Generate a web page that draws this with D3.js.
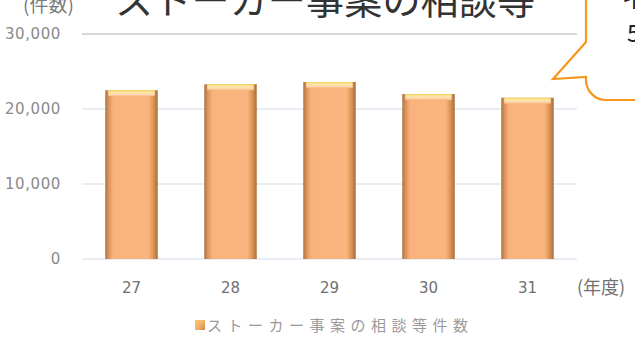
<!DOCTYPE html>
<html><head><meta charset="utf-8">
<script src="https://cdn.jsdelivr.net/npm/d3@7"></script>
<style>html,body{margin:0;padding:0;background:#fff;overflow:hidden}</style>
</head><body>
<svg id="c" width="635" height="338"></svg>
<script>
const categories = ["27","28","29","30","31"];
const values = [22500, 23300, 23600, 22000, 21500];
const yTicks = [0, 10000, 20000, 30000];
const titleText = "ストーカー事案の相談等";
const legendText = "ストーカー事案の相談等件数";
const yUnit = "(件数)";
const xUnit = "(年度)";
const calloutLines = ["イ", "5"];

const svg = d3.select("#c");
const defs = svg.append("defs");
const g1 = defs.append("linearGradient").attr("id","barG").attr("x1","0").attr("x2","1").attr("y1","0").attr("y2","0");
[[0,"#ad723d"],[0.06,"#d8915a"],[0.15,"#f9b27c"],[0.82,"#fab57f"],[0.91,"#e09658"],[1,"#a86e3a"]].forEach(s=>g1.append("stop").attr("offset",s[0]).attr("stop-color",s[1]));
const g2 = defs.append("linearGradient").attr("id","capG").attr("x1","0").attr("x2","0").attr("y1","0").attr("y2","1");
[[0,"#f0d050"],[0.3,"#fbe8a2"],[0.7,"#fcd9b0"],[1,"#f9b680"]].forEach(s=>g2.append("stop").attr("offset",s[0]).attr("stop-color",s[1]));

const x = d3.scaleBand().domain(categories).range([82, 577]).paddingInner(0.47).paddingOuter(0.235);
const y = d3.scaleLinear().domain([0, 30000]).range([259, 34]);

// gridlines
svg.append("g").selectAll("line").data(yTicks).join("line")
  .attr("x1", 82).attr("x2", 577)
  .attr("y1", d => y(d)).attr("y2", d => y(d))
  .attr("stroke", d => d === 30000 ? "#d8d8d8" : "#cfdbe6").attr("stroke-width", d => d===30000?2:1.2);

// y axis labels
const yAxis = d3.axisLeft(y).tickValues(yTicks).tickFormat(d3.format(",")).tickSize(0).tickPadding(0);
const ya = svg.append("g").attr("transform","translate(61,0)").call(yAxis);
ya.select(".domain").remove();
ya.selectAll("text").attr("font-family","DejaVu Sans").attr("font-size",15).attr("fill","#8a8a8a").attr("letter-spacing","0.6px");

// bars
const bars = svg.append("g");
bars.selectAll("rect.b").data(values).join("rect").attr("class","b")
  .attr("x",(d,i)=>x(categories[i])).attr("width",x.bandwidth())
  .attr("y",d=>y(d)).attr("height",d=>y(0)-y(d))
  .attr("fill","url(#barG)");
bars.selectAll("rect.cap").data(values).join("rect").attr("class","cap")
  .attr("x",(d,i)=>x(categories[i])+3).attr("width",x.bandwidth()-6)
  .attr("y",d=>y(d)).attr("height",6)
  .attr("fill","url(#capG)");

// x axis labels
const xAxis = d3.axisBottom(x).tickSize(0).tickPadding(0);
const xa = svg.append("g").attr("transform","translate(0,282)").call(xAxis);
xa.select(".domain").remove();
xa.selectAll("text").attr("font-family","DejaVu Sans").attr("font-size",15).attr("fill","#707070");

svg.append("text").attr("x",577).attr("y",294).attr("font-family","Noto Sans CJK JP").attr("font-size",18)
  .attr("fill","#707070").text(xUnit);

// title
svg.append("text").attr("x",115).attr("y",14).attr("font-family","Noto Sans CJK JP").attr("font-size",38)
  .attr("fill","#333").attr("textLength",420).attr("lengthAdjust","spacing").text(titleText);
svg.append("text").attr("x",23).attr("y",12).attr("font-family","Noto Sans CJK JP").attr("font-size",19)
  .attr("fill","#7a7a7a").text(yUnit);

// callout
const r = 20;
const callout = d3.path();
callout.moveTo(586, -10);
callout.lineTo(586, 42);
callout.lineTo(553, 79);
callout.lineTo(586, 77);
callout.arcTo(586, 100, 606, 100, r);
callout.lineTo(650, 100);
svg.append("path").attr("d", callout.toString()).attr("fill","#fff").attr("stroke","#f5961f").attr("stroke-width",2.2).attr("stroke-linejoin","miter");
svg.append("text").attr("x",622).attr("y",8).attr("font-family","Noto Sans CJK JP").attr("font-size",22).attr("fill","#222").text(calloutLines[0]);
svg.append("text").attr("x",627).attr("y",42).attr("font-family","Noto Sans CJK JP").attr("font-size",24).attr("fill","#222").text(calloutLines[1]);

// legend
const lg = defs.append("linearGradient").attr("id","lgG").attr("x1","0").attr("x2","1").attr("y1","0").attr("y2","1");
[[0,"#f3d060"],[0.5,"#f6b070"],[1,"#c98a4a"]].forEach(s=>lg.append("stop").attr("offset",s[0]).attr("stop-color",s[1]));
svg.append("rect").attr("x",195).attr("y",320).attr("width",10).attr("height",10).attr("fill","url(#lgG)");
svg.append("text").attr("x",207).attr("y",331).attr("font-family","Noto Sans CJK JP").attr("font-size",15)
  .attr("fill","#9a9a9a").attr("textLength",261).attr("lengthAdjust","spacing").text(legendText);
</script>
</body></html>
